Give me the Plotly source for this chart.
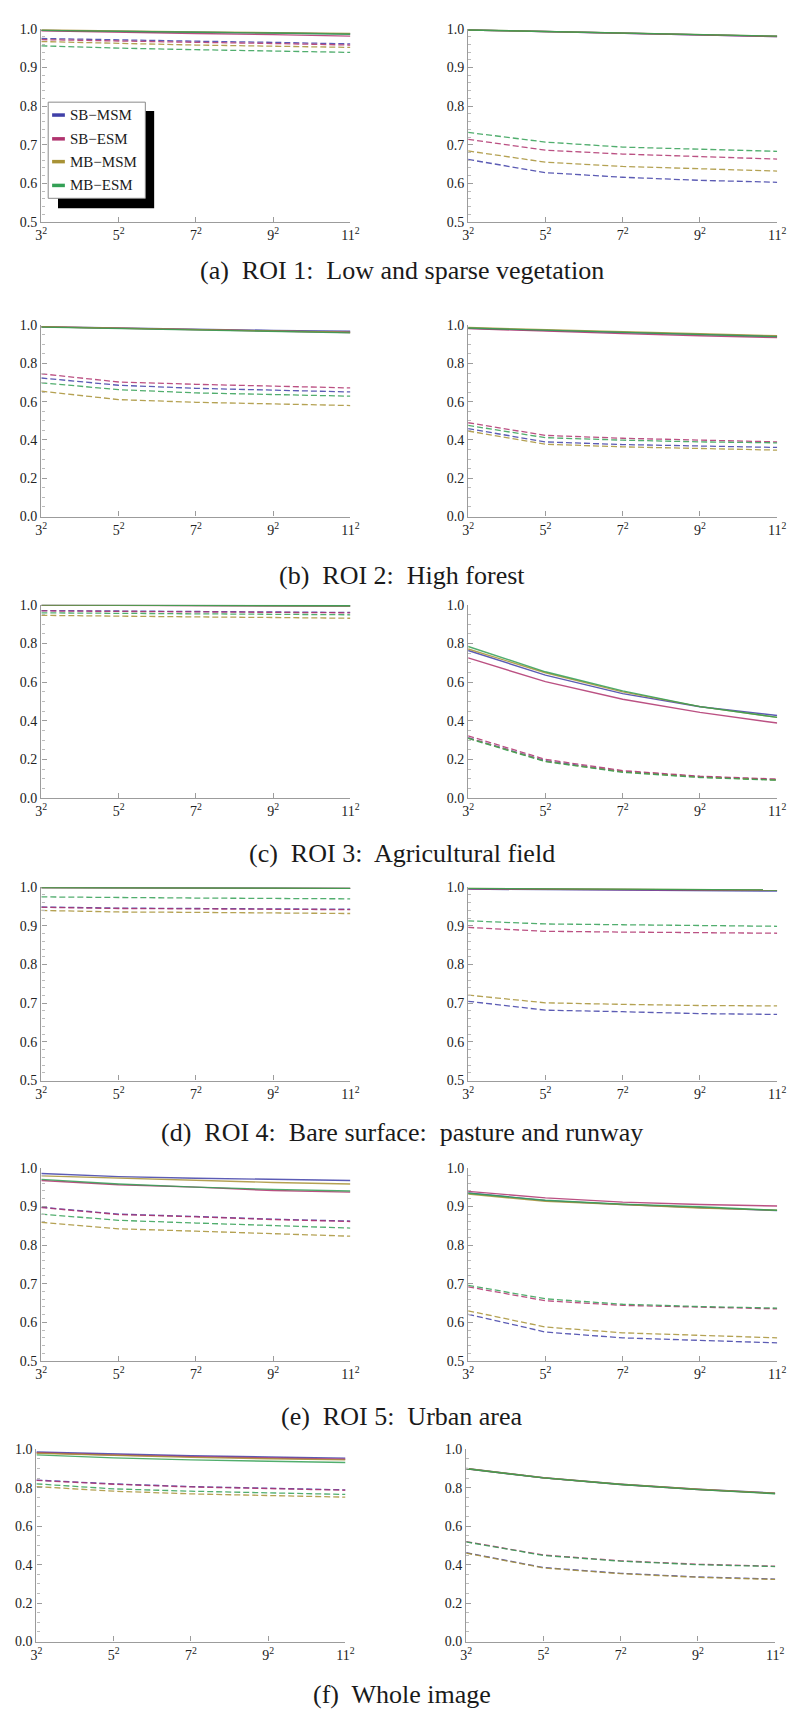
import plotly.graph_objects as go

# ---------------- data ----------------
window_sizes = [3, 5, 7, 9, 11]
x_tick_text = ["3<sup>2</sup>", "5<sup>2</sup>", "7<sup>2</sup>", "9<sup>2</sup>", "11<sup>2</sup>"]
series_names = ["SB\u2212MSM", "SB\u2212ESM", "MB\u2212MSM", "MB\u2212ESM"]
series_colors = ["#4040a8", "#b0336e", "#a89236", "#33a055"]
captions = ["(a)  ROI 1:  Low and sparse vegetation",
            "(b)  ROI 2:  High forest",
            "(c)  ROI 3:  Agricultural field",
            "(d)  ROI 4:  Bare surface:  pasture and runway",
            "(e)  ROI 5:  Urban area",
            "(f)  Whole image"]

# order inside each list: SB-MSM, SB-ESM, MB-MSM, MB-ESM
roi1_left_solid = [[0.996, 0.993, 0.991, 0.989, 0.987], [0.995, 0.991, 0.988, 0.985, 0.981],
                   [0.997, 0.994, 0.992, 0.990, 0.988], [0.996, 0.993, 0.991, 0.989, 0.986]]
roi1_left_dashed = [[0.975, 0.971, 0.968, 0.965, 0.961], [0.972, 0.968, 0.965, 0.962, 0.958],
                    [0.967, 0.962, 0.958, 0.955, 0.952], [0.956, 0.950, 0.946, 0.942, 0.939]]
roi1_right_solid = [[0.997, 0.993, 0.989, 0.985, 0.980], [0.997, 0.993, 0.989, 0.985, 0.980],
                    [0.997, 0.993, 0.989, 0.985, 0.981], [0.997, 0.993, 0.990, 0.986, 0.981]]
roi1_right_dashed = [[0.662, 0.628, 0.616, 0.608, 0.603], [0.714, 0.686, 0.676, 0.670, 0.663],
                     [0.684, 0.655, 0.644, 0.638, 0.632], [0.732, 0.707, 0.694, 0.688, 0.683]]

roi2_left_solid = [[0.992, 0.985, 0.979, 0.973, 0.968], [0.991, 0.983, 0.976, 0.969, 0.962],
                   [0.992, 0.984, 0.977, 0.970, 0.964], [0.990, 0.982, 0.974, 0.967, 0.960]]
roi2_left_dashed = [[0.724, 0.686, 0.670, 0.660, 0.651], [0.746, 0.703, 0.691, 0.680, 0.672],
                    [0.655, 0.611, 0.597, 0.589, 0.580], [0.699, 0.663, 0.646, 0.637, 0.629]]
roi2_right_solid = [[0.984, 0.972, 0.962, 0.952, 0.942], [0.982, 0.968, 0.956, 0.945, 0.935],
                    [0.988, 0.976, 0.966, 0.955, 0.945], [0.985, 0.973, 0.962, 0.951, 0.940]]
roi2_right_dashed = [[0.459, 0.390, 0.376, 0.368, 0.361], [0.490, 0.424, 0.409, 0.398, 0.390],
                     [0.447, 0.378, 0.364, 0.356, 0.347], [0.476, 0.412, 0.399, 0.390, 0.385]]

roi3_left_solid = [[0.998, 0.997, 0.996, 0.995, 0.994], [0.998, 0.997, 0.996, 0.995, 0.993],
                   [0.998, 0.997, 0.996, 0.995, 0.994], [0.999, 0.998, 0.997, 0.996, 0.995]]
roi3_left_dashed = [[0.970, 0.967, 0.965, 0.963, 0.960], [0.968, 0.965, 0.963, 0.961, 0.958],
                    [0.945, 0.940, 0.937, 0.934, 0.930], [0.958, 0.955, 0.953, 0.951, 0.948]]
roi3_right_solid = [[0.763, 0.636, 0.540, 0.472, 0.427], [0.725, 0.602, 0.511, 0.443, 0.388],
                    [0.771, 0.648, 0.549, 0.473, 0.417], [0.784, 0.653, 0.554, 0.473, 0.417]]
roi3_right_dashed = [[0.312, 0.193, 0.137, 0.110, 0.095], [0.322, 0.200, 0.142, 0.113, 0.098],
                     [0.310, 0.190, 0.135, 0.108, 0.093], [0.308, 0.188, 0.133, 0.106, 0.092]]

roi4_left_solid = [[0.999, 0.998, 0.998, 0.997, 0.997], [0.999, 0.998, 0.998, 0.997, 0.997],
                   [0.999, 0.998, 0.998, 0.997, 0.997], [0.999, 0.999, 0.998, 0.998, 0.997]]
roi4_left_dashed = [[0.949, 0.946, 0.945, 0.944, 0.943], [0.948, 0.945, 0.944, 0.943, 0.942],
                    [0.940, 0.936, 0.935, 0.934, 0.932], [0.975, 0.973, 0.972, 0.971, 0.970]]
roi4_right_solid = [[0.995, 0.994, 0.993, 0.991, 0.990], [0.996, 0.995, 0.994, 0.993, 0.992],
                    [0.997, 0.996, 0.995, 0.994, 0.993], [0.997, 0.996, 0.995, 0.994, 0.993]]
roi4_right_dashed = [[0.705, 0.682, 0.678, 0.673, 0.671], [0.896, 0.886, 0.884, 0.883, 0.881],
                     [0.721, 0.701, 0.697, 0.694, 0.693], [0.913, 0.905, 0.903, 0.901, 0.899]]

roi5_left_solid = [[0.985, 0.977, 0.973, 0.970, 0.967], [0.967, 0.956, 0.950, 0.941, 0.937],
                   [0.979, 0.973, 0.968, 0.962, 0.958], [0.970, 0.958, 0.950, 0.944, 0.940]]
roi5_left_dashed = [[0.898, 0.880, 0.874, 0.867, 0.862], [0.897, 0.879, 0.873, 0.866, 0.861],
                    [0.859, 0.842, 0.836, 0.830, 0.823], [0.880, 0.864, 0.857, 0.850, 0.844]]
roi5_right_solid = [[0.935, 0.915, 0.905, 0.897, 0.889], [0.939, 0.922, 0.911, 0.905, 0.901],
                    [0.932, 0.913, 0.905, 0.896, 0.890], [0.934, 0.916, 0.906, 0.899, 0.890]]
roi5_right_dashed = [[0.621, 0.575, 0.560, 0.553, 0.547], [0.692, 0.656, 0.644, 0.639, 0.635],
                     [0.630, 0.588, 0.573, 0.566, 0.560], [0.696, 0.661, 0.647, 0.641, 0.637]]

whole_left_solid = [[0.986, 0.975, 0.966, 0.960, 0.954], [0.982, 0.970, 0.962, 0.955, 0.948],
                    [0.979, 0.967, 0.958, 0.951, 0.945], [0.971, 0.955, 0.945, 0.937, 0.931]]
whole_left_dashed = [[0.840, 0.820, 0.806, 0.797, 0.789], [0.838, 0.818, 0.804, 0.795, 0.787],
                     [0.806, 0.782, 0.768, 0.759, 0.751], [0.820, 0.794, 0.782, 0.773, 0.765]]
whole_right_solid = [[0.900, 0.852, 0.818, 0.792, 0.772], [0.899, 0.851, 0.817, 0.791, 0.770],
                     [0.900, 0.852, 0.818, 0.792, 0.771], [0.899, 0.851, 0.817, 0.790, 0.769]]
whole_right_dashed = [[0.462, 0.385, 0.355, 0.336, 0.325], [0.520, 0.450, 0.420, 0.402, 0.392],
                      [0.460, 0.383, 0.353, 0.334, 0.323], [0.518, 0.448, 0.418, 0.400, 0.390]]

panel_data = [
    (roi1_left_solid, roi1_left_dashed, [0.5, 1.0]), (roi1_right_solid, roi1_right_dashed, [0.5, 1.0]),
    (roi2_left_solid, roi2_left_dashed, [0.0, 1.0]), (roi2_right_solid, roi2_right_dashed, [0.0, 1.0]),
    (roi3_left_solid, roi3_left_dashed, [0.0, 1.0]), (roi3_right_solid, roi3_right_dashed, [0.0, 1.0]),
    (roi4_left_solid, roi4_left_dashed, [0.5, 1.0]), (roi4_right_solid, roi4_right_dashed, [0.5, 1.0]),
    (roi5_left_solid, roi5_left_dashed, [0.5, 1.0]), (roi5_right_solid, roi5_right_dashed, [0.5, 1.0]),
    (whole_left_solid, whole_left_dashed, [0.0, 1.0]), (whole_right_solid, whole_right_dashed, [0.0, 1.0]),
]

# ---------------- layout geometry (pixels) ----------------
W, H = 798, 1715
row_px = [(22, 217), (321, 514), (603, 798), (888, 1083), (1171, 1366), (1455, 1649)]
col_px = [[(36, 351), (471, 786)]] * 5 + [[(31, 346), (469, 784)]]
caption_y = [266, 574, 854, 1135, 1422, 1702]
legend_box = (43, 96, 142, 193)      # x0, y0, x1, y1
legend_shadow = (53, 105, 151, 203)
legend_rows = [109, 133, 156, 180]


def px_x(v):
    return v / W


def px_y(v):
    return 1 - v / H


fig = go.Figure()
serif = "Liberation Serif, Times New Roman, serif"
tick_font = dict(family=serif, size=14, color="#222222")
axis_color = "#9c9c9c"

for k, (solid, dashed, yr) in enumerate(panel_data):
    r, c = divmod(k, 2)
    aid = "" if k == 0 else str(k + 1)
    x0, x1 = col_px[r][c]
    y0, y1 = row_px[r]
    for s in range(4):
        fig.add_trace(go.Scatter(x=window_sizes, y=dashed[s], mode="lines", name=series_names[s],
                                 line=dict(color=series_colors[s], width=1.3, dash="6px,3px"),
                                 opacity=0.85, showlegend=False, hoverinfo="skip",
                                 xaxis="x" + aid, yaxis="y" + aid))
    for s in range(4):
        fig.add_trace(go.Scatter(x=window_sizes, y=solid[s], mode="lines", name=series_names[s],
                                 line=dict(color=series_colors[s], width=1.4),
                                 opacity=0.85, showlegend=False, hoverinfo="skip",
                                 xaxis="x" + aid, yaxis="y" + aid))
    if yr[0] == 0.5:
        ymajor, yminor = 0.1, 0.02
    else:
        ymajor, yminor = 0.2, 0.05
    fig.layout["xaxis" + aid] = dict(
        domain=[px_x(x0), px_x(x1)], range=[3, 11], anchor="y" + aid,
        tickmode="array", tickvals=window_sizes, ticktext=x_tick_text,
        ticks="inside", ticklen=5, tickcolor=axis_color, tickwidth=1,
        showline=True, linecolor=axis_color, linewidth=1.4,
        showgrid=False, zeroline=False, tickfont=tick_font, fixedrange=True)
    fig.layout["yaxis" + aid] = dict(
        domain=[px_y(y1), px_y(y0)], range=yr, anchor="x" + aid,
        tick0=0, dtick=ymajor, tickformat=".1f",
        ticks="inside", ticklen=5, tickcolor=axis_color, tickwidth=1,
        minor=dict(dtick=yminor, ticks="inside", ticklen=3, tickcolor="#bbbbbb", showgrid=False),
        showline=True, linecolor=axis_color, linewidth=1.4,
        showgrid=False, zeroline=False, tickfont=tick_font, fixedrange=True)

# ---------------- legend (drawn in first panel, with drop shadow) ----------------
sx0, sy0, sx1, sy1 = legend_shadow
fig.add_shape(type="rect", xref="paper", yref="paper",
              x0=px_x(sx0), x1=px_x(sx1), y0=px_y(sy1), y1=px_y(sy0),
              fillcolor="black", line=dict(width=0), layer="above")
bx0, by0, bx1, by1 = legend_box
fig.add_shape(type="rect", xref="paper", yref="paper",
              x0=px_x(bx0), x1=px_x(bx1), y0=px_y(by1), y1=px_y(by0),
              fillcolor="white", line=dict(color="#8a8a8a", width=1), layer="above")
for s in range(4):
    yy = px_y(legend_rows[s])
    fig.add_shape(type="line", xref="paper", yref="paper",
                  x0=px_x(47), x1=px_x(60), y0=yy, y1=yy,
                  line=dict(color=series_colors[s], width=3.5), layer="above")
    fig.add_annotation(text=series_names[s], xref="paper", yref="paper",
                       x=px_x(63), y=yy, xanchor="left", yanchor="middle", showarrow=False,
                       font=dict(family=serif, size=15, color="#1a1a1a"))

for i, txt in enumerate(captions):
    fig.add_annotation(text=txt, xref="paper", yref="paper", x=px_x(404), y=px_y(caption_y[i]),
                       xanchor="center", yanchor="middle", showarrow=False,
                       font=dict(family=serif, size=26, color="#1a1a1a"))

fig.update_layout(
    width=W, height=H, margin=dict(l=0, r=0, t=0, b=0),
    paper_bgcolor="white", plot_bgcolor="white",
    showlegend=False,
)

fig.write_html("out.html", config={"displayModeBar": False},
               post_script="document.body.style.margin='0';document.body.style.overflow='hidden';")
